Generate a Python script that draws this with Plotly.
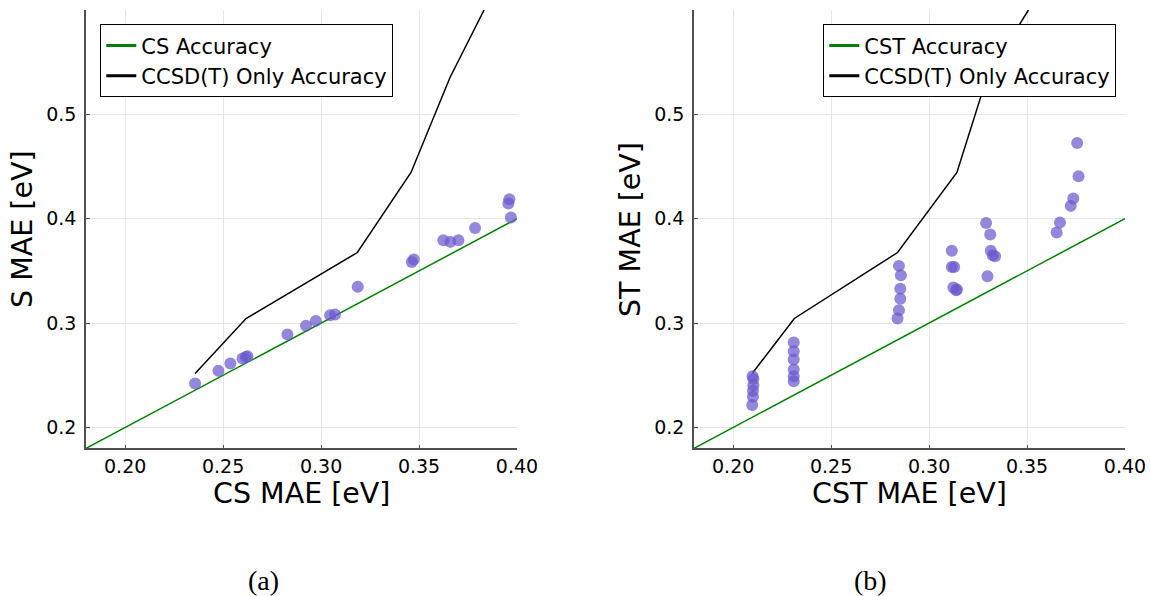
import plotly.graph_objects as go

# ---------------- data ----------------
diag = [0.18, 0.40]

ccsdt_y = [0.2517, 0.3044, 0.3676, 0.4443, 0.5353, 0.600]
ccsdt_cs_x = [0.2357, 0.2617, 0.3185, 0.3459, 0.3658, 0.3832]
ccsdt_cst_x = [0.2097, 0.2312, 0.2839, 0.3142, 0.3295, 0.3507]

cs_x = [0.2357, 0.2476, 0.2537, 0.2599, 0.2616, 0.2624, 0.2828, 0.2923, 0.2973,
        0.3046, 0.3071, 0.3187, 0.3463, 0.3473, 0.3624, 0.3660, 0.3701, 0.3786,
        0.3956, 0.3961, 0.3969]
s_y = [0.2421, 0.2542, 0.2613, 0.2661, 0.2676, 0.2683, 0.2891, 0.2974, 0.3021,
       0.3076, 0.3082, 0.3347, 0.3586, 0.3609, 0.3794, 0.3778, 0.3794, 0.3912,
       0.4146, 0.4187, 0.4011]

cst_x = [0.2099, 0.2103, 0.2103, 0.2101, 0.2101, 0.2097,
         0.2309, 0.2309, 0.2309, 0.2309, 0.2309, 0.2309,
         0.2846, 0.2856, 0.2853, 0.2853, 0.2846, 0.2839,
         0.3116, 0.3116, 0.3128, 0.3124, 0.3138, 0.3142,
         0.3291, 0.3312, 0.3315, 0.3325, 0.3337, 0.3298,
         0.3651, 0.3668, 0.3723, 0.3736, 0.3763, 0.3756]
st_y = [0.2491, 0.2465, 0.2405, 0.2351, 0.2293, 0.2214,
        0.2814, 0.2731, 0.2651, 0.2556, 0.2491, 0.2443,
        0.3548, 0.3459, 0.3328, 0.3232, 0.3124, 0.3044,
        0.3692, 0.3538, 0.3538, 0.3341, 0.3315, 0.3322,
        0.3960, 0.3849, 0.3692, 0.3650, 0.3641, 0.3449,
        0.3868, 0.3964, 0.4123, 0.4193, 0.4407, 0.4726]

x_ticks = [0.20, 0.25, 0.30, 0.35, 0.40]
x_ticktext = ["0.20", "0.25", "0.30", "0.35", "0.40"]
y_ticks = [0.2, 0.3, 0.4, 0.5]
y_ticktext = ["0.2", "0.3", "0.4", "0.5"]

# ---------------- styles ----------------
W, H = 1150, 596
FONT = "DejaVu Sans"
GREEN = "#008000"
DOT = "rgba(106,90,205,0.72)"
AXC = "#505050"
GRID = "#e6e6e6"

fig = go.Figure()

def add_panel(xa, ya, leg, xdata, ydata, lx, green_name):
    fig.add_trace(go.Scatter(x=diag, y=diag, mode="lines", xaxis=xa, yaxis=ya,
                             line=dict(color=GREEN, width=1.5), showlegend=False,
                             hoverinfo="skip"))
    fig.add_trace(go.Scatter(x=lx, y=ccsdt_y, mode="lines", xaxis=xa, yaxis=ya,
                             line=dict(color="black", width=1.5), showlegend=False,
                             hoverinfo="skip"))
    fig.add_trace(go.Scatter(x=xdata, y=ydata, mode="markers", xaxis=xa, yaxis=ya,
                             marker=dict(color=DOT, size=12, line=dict(width=0)),
                             showlegend=False))
    # legend entries
    fig.add_trace(go.Scatter(x=[None], y=[None], mode="lines", xaxis=xa, yaxis=ya,
                             line=dict(color=GREEN, width=3), name=green_name,
                             legend=leg))
    fig.add_trace(go.Scatter(x=[None], y=[None], mode="lines", xaxis=xa, yaxis=ya,
                             line=dict(color="black", width=3),
                             name="CCSD(T) Only Accuracy", legend=leg))

add_panel("x", "y", "legend", cs_x, s_y, ccsdt_cs_x, "CS Accuracy")
add_panel("x2", "y2", "legend2", cst_x, st_y, ccsdt_cst_x, "CST Accuracy")

ydom = [(H - 448.3) / H, (H - 10) / H]

def xax(dom, anchor):
    return dict(domain=dom, anchor=anchor, range=[0.18, 0.40], tickvals=x_ticks,
                ticktext=x_ticktext, showgrid=True, gridcolor=GRID, gridwidth=1,
                showline=True, linecolor=AXC, linewidth=1.5, ticks="inside",
                ticklen=4, tickcolor=AXC, zeroline=False, automargin=False,
                tickfont=dict(family=FONT, size=19, color="black"))

def yax(anchor):
    return dict(domain=ydom, anchor=anchor, range=[0.18, 0.60], tickvals=y_ticks,
                ticktext=y_ticktext, showgrid=True, gridcolor=GRID, gridwidth=1,
                showline=True, linecolor=AXC, linewidth=1.5, ticks="inside",
                ticklen=4, tickcolor=AXC, zeroline=False, ticklabelstandoff=4,
                automargin=False,
                tickfont=dict(family=FONT, size=19, color="black"))

legstyle = dict(xanchor="left", yanchor="top", bgcolor="white", bordercolor="black",
                borderwidth=1, font=dict(family=FONT, size=21, color="black"),
                tracegroupgap=0)

fig.update_layout(
    width=W, height=H, margin=dict(l=0, r=0, t=0, b=0, autoexpand=False),
    paper_bgcolor="white", plot_bgcolor="white",
    xaxis=xax([86 / W, 517 / W], "y"),
    yaxis=yax("x"),
    xaxis2=xax([694 / W, 1125 / W], "y2"),
    yaxis2=yax("x2"),
    legend=dict(x=100.3 / W, y=1 - 24.3 / H, **legstyle),
    legend2=dict(x=823.3 / W, y=1 - 24.3 / H, **legstyle),
    showlegend=True,
)

ann_font = dict(family=FONT, size=28.5, color="black")
cap_font = dict(family="Liberation Serif", size=28, color="black")
annotations = [
    dict(text="CS MAE [eV]", x=301.5 / W, y=1 - 493 / H, font=ann_font),
    dict(text="CST MAE [eV]", x=909.5 / W, y=1 - 493 / H, font=ann_font),
    dict(text="S MAE [eV]", x=22 / W, y=1 - 229 / H, font=ann_font, textangle=-90),
    dict(text="ST MAE [eV]", x=630 / W, y=1 - 229 / H, font=ann_font, textangle=-90),
    dict(text="(a)", x=263 / W, y=1 - 580 / H, font=cap_font),
    dict(text="(b)", x=870 / W, y=1 - 580 / H, font=cap_font),
]
for a in annotations:
    fig.add_annotation(xref="paper", yref="paper", showarrow=False,
                       xanchor="center", yanchor="middle", **a)

fig.write_html("out.html")
